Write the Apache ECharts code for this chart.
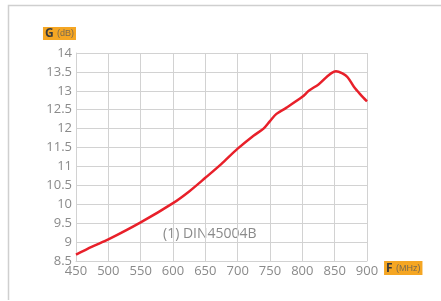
<!DOCTYPE html>
<html>
<head>
<meta charset="utf-8">
<script src="https://cdn.jsdelivr.net/npm/echarts@6/dist/echarts.min.js"></script>
<style>
  html, body { margin: 0; padding: 0; background: #fff; }
  #chart { width: 441px; height: 301px; }
</style>
</head>
<body>
<div id="chart"></div>
<script>
// frequency (MHz) and gain (dB)
const freq = [450, 475, 500, 550, 600, 625, 650, 675, 700, 725, 740, 750, 760, 775, 800, 810, 825, 852, 862, 870, 880, 890, 900];
const gain = [8.67, 8.88, 9.07, 9.52, 10.03, 10.34, 10.7, 11.07, 11.47, 11.82, 12.0, 12.2, 12.39, 12.55, 12.84, 13.0, 13.17, 13.52, 13.46, 13.36, 13.1, 12.9, 12.72];
const label = '(1) DIN45004B';

const chart = echarts.init(document.getElementById('chart'));

const gridColor = '#d2d2d2';
const labelStyle = { color: '#8a8a8a', fontSize: 13, fontFamily: 'Open Sans' };
const nameBox = {
  backgroundColor: '#f5a623',
  padding: [1, 2, 0, 2],
  rich: {
    b: { fontWeight: 'bold', color: '#3a3a3a', fontSize: 12, fontFamily: 'Open Sans' },
    u: { color: '#7a6a50', fontSize: 9, fontFamily: 'Liberation Sans' }
  }
};

chart.setOption({
  animation: false,
  grid: { left: 76, right: 74, top: 53, bottom: 40 },
  xAxis: {
    type: 'value',
    min: 450, max: 900, interval: 50,
    name: '{b|F} {u|(MHz)}',
    nameLocation: 'end',
    nameGap: 10,
    nameTextStyle: Object.assign({ verticalAlign: 'top' }, nameBox, { padding: [2, 2, 0, 2] }),
    axisLine: { lineStyle: { color: gridColor } },
    axisTick: { show: false },
    axisLabel: Object.assign({ margin: 4 }, labelStyle),
    splitLine: { lineStyle: { color: gridColor } }
  },
  yAxis: {
    type: 'value',
    min: 8.5, max: 14, interval: 0.5,
    name: '{b|G} {u|(dB)}',
    nameLocation: 'end',
    nameGap: 13,
    nameTextStyle: Object.assign({ align: 'right' }, nameBox),
    axisLine: { show: true, lineStyle: { color: gridColor } },
    axisTick: { show: false },
    axisLabel: Object.assign({ margin: 4 }, labelStyle),
    splitLine: { lineStyle: { color: gridColor } }
  },
  graphic: [
    { type: 'polyline', shape: { points: [[8.5, 300], [8.5, 5.5], [441, 5.5]] }, style: { stroke: '#cfcfcf', lineWidth: 1.5, fill: null } },
    { type: 'text', left: 163, top: 227, style: { text: label, fill: '#8a8a8a', fontSize: 14, fontFamily: 'Open Sans' } }
  ],
  series: [{
    type: 'line',
    data: freq.map((f, i) => [f, gain[i]]),
    smooth: 0.3,
    showSymbol: false,
    lineStyle: { color: '#e8202a', width: 2.5 }
  }]
});
</script>
</body>
</html>
